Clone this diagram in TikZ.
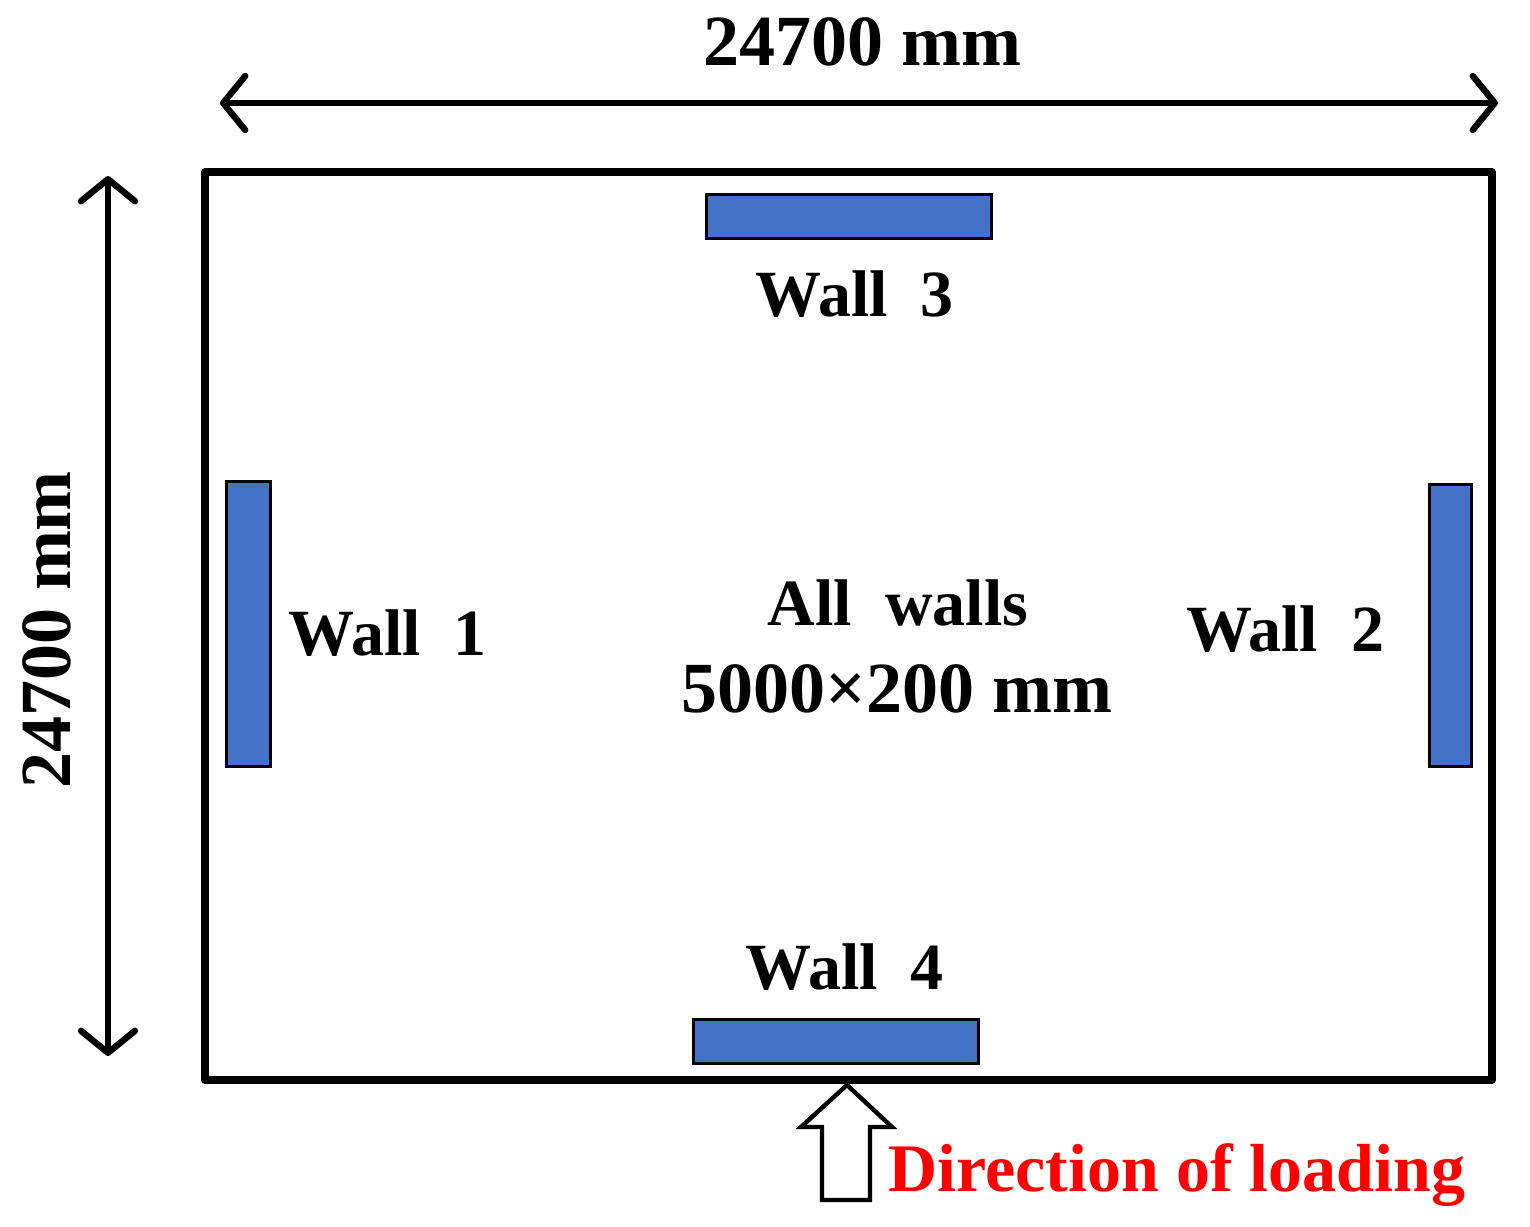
\documentclass[tikz,border=0pt]{standalone}
\usepackage{fontspec}
\setmainfont{Liberation Serif}
\usetikzlibrary{arrows.meta}
\definecolor{wallblue}{HTML}{4472C4}
\definecolor{loadred}{HTML}{FF0000}

\begin{document}
\begin{tikzpicture}[x=0.5pt, y=-0.5pt, every node/.style={font=\fontsize{33}{36}\selectfont\bfseries, inner sep=0pt},
		wallbox/.style={draw=black, fill=wallblue, line width=1.5pt, font=\normalfont},
		dimline/.style={line width=3.2pt, {Straight Barb[round,length=11pt,width=27pt]}-{Straight Barb[round,length=11pt,width=27pt]}}]
			\useasboundingbox (0,0) rectangle (1530,1226);

			% Plan outline
			\draw[line width=4pt, line join=round] (205,172) rectangle (1492,1080);

			% Walls
			\node[wallbox, minimum width=142.5pt, minimum height=22pt] (wallC) at (848.5,216) {};
			\node[wallbox, minimum width=142.5pt, minimum height=22pt] (wallD) at (836,1041.5) {};
			\node[wallbox, minimum width=22pt, minimum height=142.5pt] (wallA) at (248,624) {};
			\node[wallbox, minimum width=21pt, minimum height=141pt] (wallB) at (1450,625) {};

			% Wall labels
			\node (labelA) at (388,633) {Wall~~1};
			\node (labelB) at (1285,629) {Wall~~2};
			\node (labelC) at (855,294) {Wall~~3};
			\node (labelD) at (845,967) {Wall~~4};
			\node (labelAll) at (898,603) {All~~walls};
			\node[font=\fontsize{36}{40}\selectfont\bfseries] (labelSize) at (897,689) {5000×200 mm};

			% Dimensions
			\coordinate (dimW) at (220,103);
			\coordinate (dimE) at (1498,103);
			\coordinate (dimN) at (108,176);
			\coordinate (dimS) at (108,1056);
			\draw[dimline] (dimW) -- (dimE);
			\draw[dimline] (dimN) -- (dimS);
			\node[font=\fontsize{36}{40}\selectfont\bfseries] (widthLabel) at (862,42) {24700 mm};
			\node[font=\fontsize{36}{40}\selectfont\bfseries, rotate=90] (heightLabel) at (47,630) {24700 mm};

			% Loading arrow
			\draw[line width=2.2pt, fill=white, line join=miter] (847,1085) -- (892,1127) -- (870,1127) -- (870,1200) -- (822,1200) -- (822,1127) -- (801,1127) -- cycle;
			\node[text=loadred, font=\fontsize{34}{36}\selectfont\bfseries] (loadLabel) at (1177,1175) {Direction of loading};
		\end{tikzpicture}
\end{document}
